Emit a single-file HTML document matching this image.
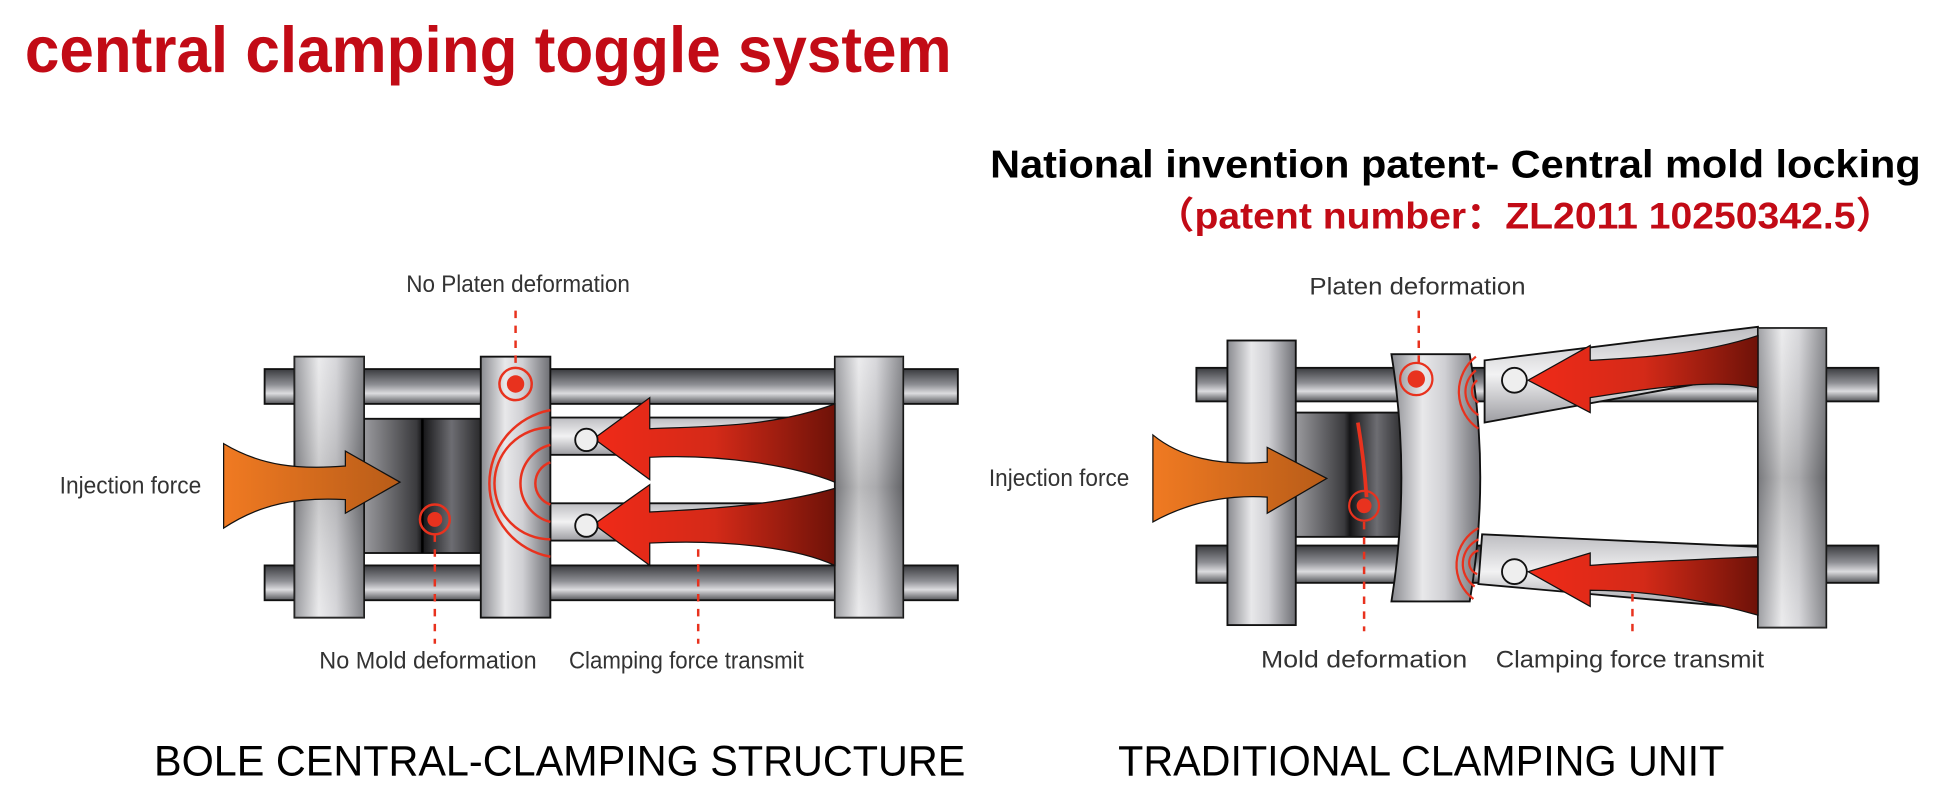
<!DOCTYPE html>
<html><head><meta charset="utf-8"><style>
html,body{margin:0;padding:0;background:#fff;}
svg{display:block;}
</style></head><body>
<svg width="1948" height="809" viewBox="0 0 1568 651" xmlns="http://www.w3.org/2000/svg" preserveAspectRatio="none">
<defs>
<linearGradient id="pl" x1="0" x2="1" y1="0" y2="0">
<stop offset="0" stop-color="#8a8b90"/><stop offset="0.35" stop-color="#e8e8ea"/><stop offset="0.6" stop-color="#d0d0d4"/><stop offset="1" stop-color="#6e6f74"/></linearGradient>
<linearGradient id="plv" x1="0" x2="0" y1="0" y2="1">
<stop offset="0" stop-color="#fff" stop-opacity="0.3"/><stop offset="0.5" stop-color="#444" stop-opacity="0.45"/><stop offset="1" stop-color="#fff" stop-opacity="0.3"/></linearGradient>
<linearGradient id="bar" x1="0" x2="0" y1="0" y2="1">
<stop offset="0" stop-color="#3a3b3f"/><stop offset="0.45" stop-color="#8e8f94"/><stop offset="0.7" stop-color="#dcdcdf"/><stop offset="1" stop-color="#55565a"/></linearGradient>
<linearGradient id="mold" x1="0" x2="1" y1="0" y2="0">
<stop offset="0" stop-color="#9a9a9e"/><stop offset="0.45" stop-color="#3a3a3d"/><stop offset="0.5" stop-color="#151517"/><stop offset="0.75" stop-color="#6d6d72"/><stop offset="1" stop-color="#2a2a2c"/></linearGradient>
<linearGradient id="link" x1="0" x2="0" y1="0" y2="1">
<stop offset="0" stop-color="#bdbdc1"/><stop offset="0.5" stop-color="#f2f2f3"/><stop offset="1" stop-color="#9d9da2"/></linearGradient>
<linearGradient id="red" x1="0" x2="1" y1="0" y2="0">
<stop offset="0" stop-color="#f02a18"/><stop offset="0.5" stop-color="#d42a18"/><stop offset="1" stop-color="#6e1208"/></linearGradient>
<linearGradient id="org" x1="0" x2="1" y1="0" y2="0">
<stop offset="0" stop-color="#f07a22"/><stop offset="1" stop-color="#b85c18"/></linearGradient>
</defs>

<text x="20" y="58" font-family="Liberation Sans, sans-serif" font-weight="bold" font-size="52" fill="#c20b16" textLength="746" lengthAdjust="spacingAndGlyphs">central clamping toggle system</text>
<text x="797" y="143" font-family="Liberation Sans, sans-serif" font-weight="bold" font-size="31" fill="#000" textLength="749" lengthAdjust="spacingAndGlyphs">National invention patent- Central mold locking</text>
<text x="930" y="184" font-family="Liberation Sans, 'Noto Sans CJK SC', sans-serif" font-weight="bold" font-size="30" fill="#c20b16" textLength="595" lengthAdjust="spacingAndGlyphs">（patent number：ZL2011 10250342.5）</text>

<g font-family="Liberation Sans, sans-serif" font-size="19" fill="#333">
<text x="327" y="235" textLength="180" lengthAdjust="spacingAndGlyphs">No Platen deformation</text>
<text x="48" y="397" textLength="114" lengthAdjust="spacingAndGlyphs">Injection force</text>
<text x="257" y="538" textLength="175" lengthAdjust="spacingAndGlyphs">No Mold deformation</text>
<text x="458" y="538" textLength="189" lengthAdjust="spacingAndGlyphs">Clamping force transmit</text>
<text x="1054" y="237" textLength="174" lengthAdjust="spacingAndGlyphs">Platen deformation</text>
<text x="796" y="391" textLength="113" lengthAdjust="spacingAndGlyphs">Injection force</text>
<text x="1015" y="537" textLength="166" lengthAdjust="spacingAndGlyphs">Mold deformation</text>
<text x="1204" y="537" textLength="216" lengthAdjust="spacingAndGlyphs">Clamping force transmit</text>
</g>
<g font-family="Liberation Sans, sans-serif" font-size="34" fill="#000">
<text x="124" y="624" textLength="653" lengthAdjust="spacingAndGlyphs">BOLE CENTRAL-CLAMPING STRUCTURE</text>
<text x="900" y="624" textLength="488" lengthAdjust="spacingAndGlyphs">TRADITIONAL CLAMPING UNIT</text>
</g>

<!-- LEFT DIAGRAM -->
<g stroke="#111" stroke-width="1.5">
<rect x="213" y="297" width="558" height="28" fill="url(#bar)"/>
<rect x="213" y="455" width="558" height="28" fill="url(#bar)"/>
<rect x="293" y="337" width="94" height="108" fill="url(#mold)"/>
<line x1="340" y1="337" x2="340" y2="445" stroke="#000" stroke-width="2"/>
<rect x="443" y="336" width="229" height="30" fill="url(#link)"/>
<rect x="443" y="405" width="229" height="30" fill="url(#link)"/>
<rect x="237" y="287" width="56" height="210" fill="url(#pl)"/>
<rect x="387" y="287" width="56" height="210" fill="url(#pl)"/>
<rect x="672" y="287" width="55" height="210" fill="url(#pl)"/>
</g>
<rect x="237" y="287" width="56" height="210" fill="url(#plv)" opacity="0.5"/>
<rect x="672" y="287" width="55" height="210" fill="url(#plv)" opacity="0.6"/>
<path d="M672 325 C620 345 560 343 523 345 L523 320 L478 353 L523 386 L523 368 C580 365 640 375 672 388 Z" fill="url(#red)" stroke="#111" stroke-width="1"/>
<path d="M672 393 C620 408 560 410 523 412 L523 390 L478 422 L523 455 L523 437 C580 434 640 440 672 455 Z" fill="url(#red)" stroke="#111" stroke-width="1"/>
<circle cx="472" cy="354" r="9" fill="#eee" stroke="#111" stroke-width="1.5"/>
<circle cx="472" cy="423" r="9" fill="#eee" stroke="#111" stroke-width="1.5"/>
<path d="M180 357 C210 375 240 378 278 375 L278 363 L322 388 L278 413 L278 402 C240 400 210 405 180 425 Z" fill="url(#org)" stroke="#111" stroke-width="1"/>
<g fill="none" stroke="#e8321e" stroke-width="2">
<circle cx="415" cy="309" r="13"/><circle cx="350" cy="418" r="12"/>
<path d="M443 344 A45 45 0 0 0 443 434"/><path d="M443 358 A32 32 0 0 0 443 420"/><path d="M443 372 A18 18 0 0 0 443 406"/>
<path d="M443 330 A60 60 0 0 0 443 448"/>
</g>
<circle cx="415" cy="309" r="7" fill="#e8321e"/><circle cx="350" cy="418" r="6" fill="#e8321e"/>
<g stroke="#e8321e" stroke-width="2" stroke-dasharray="6,6">
<line x1="415" y1="250" x2="415" y2="296"/><line x1="350" y1="430" x2="350" y2="518"/><line x1="562" y1="442" x2="562" y2="518"/>
</g>

<!-- RIGHT DIAGRAM -->
<g stroke="#111" stroke-width="1.5">
<rect x="963" y="296" width="549" height="27" fill="url(#bar)"/>
<rect x="963" y="439" width="549" height="30" fill="url(#bar)"/>
<rect x="1043" y="332" width="87" height="100" fill="url(#mold)"/>
<path d="M1195 290 L1415 263 L1415 300 L1195 340 Z" fill="url(#link)"/>
<path d="M1193 430 L1415 440 L1415 490 L1190 470 Z" fill="url(#link)"/>
<rect x="988" y="274" width="55" height="229" fill="url(#pl)"/>
<path d="M1120 285 L1183 285 Q1200 384 1183 484 L1120 484 Q1136 384 1120 285 Z" fill="url(#pl)"/>
<rect x="1415" y="264" width="55" height="241" fill="url(#pl)"/>
</g>
<rect x="1415" y="264" width="55" height="241" fill="url(#plv)" opacity="0.6"/>
<path d="M1415 270 C1370 285 1320 288 1280 290 L1280 278 L1230 306 L1280 332 L1280 320 C1330 312 1380 305 1415 312 Z" fill="url(#red)" stroke="#111" stroke-width="1"/>
<path d="M1415 448 C1370 450 1320 452 1280 455 L1280 445 L1230 460 L1280 488 L1280 475 C1330 475 1380 485 1415 495 Z" fill="url(#red)" stroke="#111" stroke-width="1"/>
<circle cx="1219" cy="306" r="10" fill="#eee" stroke="#111" stroke-width="1.5"/>
<circle cx="1219" cy="460" r="10" fill="#eee" stroke="#111" stroke-width="1.5"/>
<path d="M928 350 C950 368 980 375 1020 372 L1020 360 L1068 385 L1020 413 L1020 400 C985 398 955 405 928 420 Z" fill="url(#org)" stroke="#111" stroke-width="1"/>
<path d="M1093 340 Q1098 370 1100 400" stroke="#e8321e" stroke-width="3" fill="none"/>
<g fill="none" stroke="#e8321e" stroke-width="1.8">
<circle cx="1140" cy="305" r="13"/><circle cx="1098" cy="407" r="12"/>
<path d="M1188 287 A36 36 0 0 0 1190 345"/><path d="M1188 298 A22 22 0 0 0 1190 334"/><path d="M1189 306 A11 11 0 0 0 1190 324"/>
<path d="M1190 425 A34 34 0 0 0 1186 482"/><path d="M1190 434 A22 22 0 0 0 1187 472"/><path d="M1190 443 A10 10 0 0 0 1189 462"/>
</g>
<circle cx="1140" cy="305" r="7" fill="#e8321e"/><circle cx="1098" cy="407" r="6" fill="#e8321e"/>
<g stroke="#e8321e" stroke-width="2" stroke-dasharray="6,6">
<line x1="1142" y1="250" x2="1142" y2="292"/><line x1="1098" y1="420" x2="1098" y2="508"/><line x1="1314" y1="478" x2="1314" y2="508"/>
</g>
</svg>
</body></html>
